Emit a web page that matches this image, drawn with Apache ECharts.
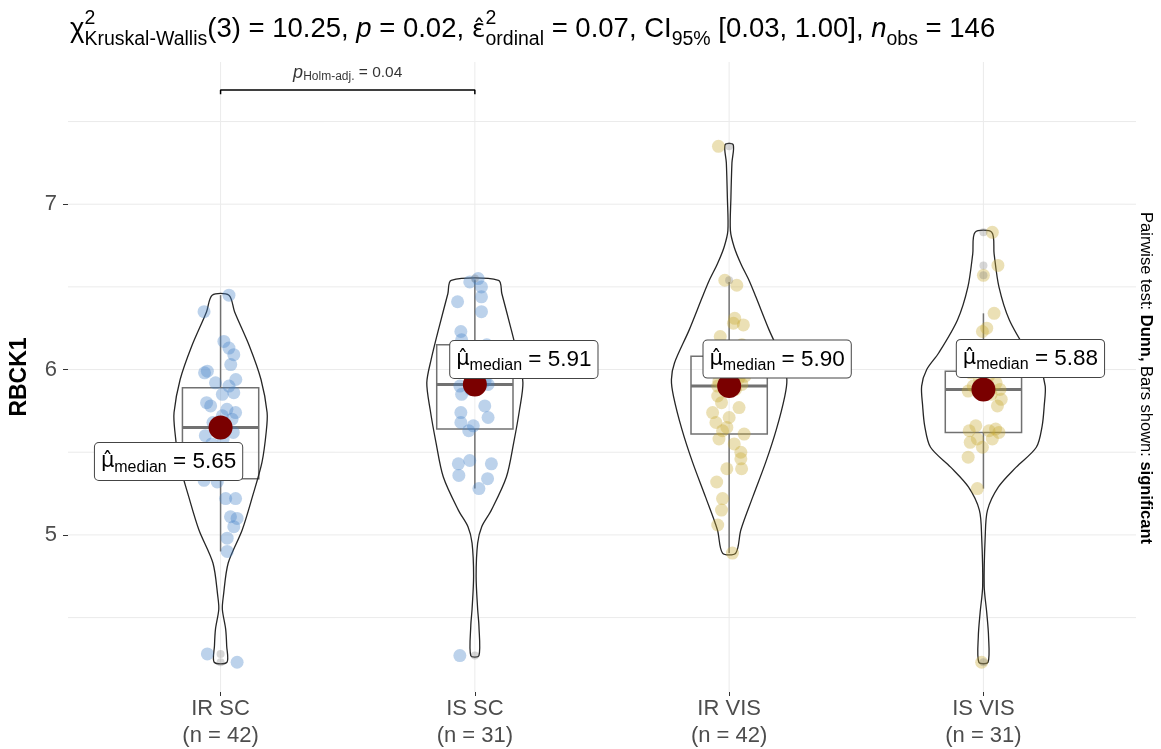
<!DOCTYPE html>
<html><head><meta charset="utf-8">
<script src="https://cdn.jsdelivr.net/npm/echarts@6/dist/echarts.min.js"></script>
<style>html,body{margin:0;padding:0;background:#fff}#main{width:1161px;height:749px}</style>
</head><body><div id="main"></div>
<script>
// ---------------- data ----------------
const categories = ['IR SC', 'IS SC', 'IR VIS', 'IS VIS'];
const counts = [42, 31, 42, 31];
const medians = [5.65, 5.91, 5.90, 5.88];
const q1 = [5.34, 5.64, 5.61, 5.62];
const q3 = [5.89, 6.15, 6.08, 5.99];
const whiskerLow = [4.90, 5.28, 4.89, 5.28];
const whiskerHigh = [6.45, 6.54, 6.53, 6.34];
const yTickValues = [5, 6, 7];
const yMinorValues = [4.5, 5.5, 6.5, 7.5];

// jittered observations: [horizontal jitter (category units), value]
const pointsIRSC = [[.033,6.45],[-.065,6.35],[.013,6.17],[.033,6.13],[.052,6.09],[-.052,5.99],[-.063,5.98],[-.020,5.92],[.033,5.90],[.007,5.85],[.052,5.86],[-.039,5.78],[.059,5.74],[.007,5.72],
  [-.03,5.68],[.045,5.70],[.02,5.66],[-.055,5.80],[.025,5.76],[.04,6.03],[-.012,5.64],[.06,5.94],
  [.05,5.62],[-.06,5.60],[.01,5.58],[-.035,5.55],[.055,5.52],[-.015,5.48],[.03,5.45],[-.05,5.40],[.04,5.37],
  [-.065,5.33],[-.013,5.32],[.02,5.22],[.059,5.22],[.039,5.11],[.065,5.10],[.052,5.05],[.026,4.98],[.026,4.90],[-.052,4.28],[.065,4.23]];
const pointsISSC = [[-.020,6.53],[.013,6.55],[.026,6.50],[.026,6.44],[-.068,6.41],[.026,6.35],[-.055,6.23],[-.052,6.18],[-.059,5.90],[-.052,5.85],[.052,5.91],[.039,5.78],[.052,5.71],[-.055,5.74],[-.055,5.68],[-.024,5.63],[-.006,5.66],[-.065,5.43],[-.020,5.45],[.065,5.43],[-.063,5.36],[.050,5.34],[.016,5.28],[-.059,4.27],
  [-.03,6.12],[.03,6.05],[-.047,6.00],[.008,5.97],[.04,5.93],[-.016,5.88],[.047,6.15]];
const pointsIRVIS = [[-.042,7.35],[-.017,6.54],[.030,6.51],[.022,6.31],[.056,6.27],[.017,6.28],[-.045,5.90],[.039,5.95],[-.045,5.84],[.039,5.77],[-.065,5.74],[0,5.71],[-.052,5.68],[-.009,5.65],[-.026,5.63],[.059,5.61],[.046,5.50],[.046,5.46],[.049,5.40],[-.009,5.40],[-.049,5.32],[-.026,5.22],[-.030,5.15],[-.045,5.06],[.013,4.89],
  [-.035,6.20],[.05,6.15],[-.06,6.12],[.015,6.10],[-.02,6.06],[.055,6.04],[-.05,6.02],[.03,6.00],[-.01,5.98],[.062,5.96],[-.04,5.93],[.02,5.92],[.05,5.91],[-.03,5.80],[.025,5.88],[-.04,5.58],[.02,5.55]];
const pointsISVIS = [[.035,6.83],[.057,6.63],[0,6.57],[.042,6.34],[.013,6.25],[-.004,6.23],[.065,5.88],[.070,5.82],[.055,5.78],[-.030,5.66],[-.056,5.63],[.022,5.63],[.048,5.64],[.061,5.62],[-.052,5.56],[-.024,5.58],[.035,5.58],[-.004,5.53],[-.060,5.47],[-.024,5.28],[-.007,4.23],
  [-.03,6.10],[.04,6.02],[-.05,5.98],[.02,5.96],[-.015,5.94],[.05,5.92],[-.04,5.90],[.01,5.88],[-.06,5.87],[.03,5.85]];
const groupPoints = [pointsIRSC, pointsISSC, pointsIRVIS, pointsISVIS];

// violin outlines: [value, half-width in category units]
const violinIRSC = [[6.45,.033],[6.35,.055],[6.14,.114],[5.94,.159],[5.74,.183],[5.63,.180],[5.44,.163],[5.23,.125],[5.03,.085],[4.83,.030],[4.63,.011],[4.55,.007],[4.43,.020],[4.33,.024],[4.23,.025]];
const violinISSC = [[6.54,.093],[6.46,.106],[6.26,.140],[6.06,.172],[5.92,.189],[5.76,.176],[5.56,.153],[5.35,.124],[5.15,.065],[5.05,.027],[4.95,.011],[4.75,.005],[4.55,.011],[4.45,.016],[4.27,.016]];
const violinIRVIS = [[7.36,.016],[7.25,.011],[7.04,.007],[6.84,.005],[6.74,.020],[6.64,.046],[6.54,.078],[6.44,.105],[6.24,.157],[6.04,.215],[5.94,.227],[5.84,.219],[5.64,.186],[5.44,.144],[5.23,.093],[5.03,.046],[4.89,.026]];
const violinISVIS = [[6.83,.033],[6.70,.042],[6.50,.061],[6.30,.102],[6.10,.176],[6.00,.223],[5.90,.243],[5.78,.239],[5.66,.231],[5.53,.208],[5.41,.129],[5.29,.059],[5.15,.016],[4.99,.007],[4.69,.003],[4.53,.013],[4.39,.020],[4.23,.018]];
const violins = [violinIRSC, violinISSC, violinIRVIS, violinISVIS];

// pairwise comparison bar
const sigPair = [1, 2];
const sigY = 7.69;
const sigTick = 0.025;
const sigText = '0.04';

// ---------------- styling ----------------
const FONT = 'Liberation Sans, Arial, Helvetica, sans-serif';
const HATFONT = 'DejaVu Sans, Liberation Sans, sans-serif';
const pointColors = ['rgba(70,130,200,0.45)', 'rgba(70,130,200,0.45)', 'rgba(200,170,50,0.45)', 'rgba(200,170,50,0.45)'];
const labelOffsets = [[-52, 34], [49, -25], [48, -27], [47, -31]];
const boxHalf = 0.15;
const X_MIN = 0.4, X_MAX = 4.6, Y_MIN = 4.05, Y_MAX = 7.86;

const chart = echarts.init(document.getElementById('main'), null, {renderer: 'canvas'});

const cvs = document.createElement('canvas');
const ctx = cvs.getContext('2d');
function measure(t, size, style, family) {
  ctx.font = (style || 'normal') + ' ' + size + 'px ' + (family || FONT);
  return ctx.measureText(t).width;
}
function buildRun(segs, x0, baseline) {
  let x = x0; const els = [];
  segs.forEach(s => {
    const w = measure(s.t, s.size, s.style, s.family);
    els.push({type: 'text', silent: true, x: x, y: baseline + (s.dy || 0) - 0.35 * s.size,
      style: {text: s.t, fontSize: s.size, fontFamily: s.family || FONT, fontStyle: s.style || 'normal', fill: '#000', align: 'left', verticalAlign: 'middle'}});
    if (!s.noAdv) x += w;
  });
  return els;
}
const S = 27.5, SS = 19.5;
const titleSegs = [
  {t: 'χ', size: S},
  {t: '2', size: SS, dy: -14, noAdv: true},
  {t: 'Kruskal-Wallis', size: SS, dy: 7},
  {t: '(3) = 10.25, ', size: S},
  {t: 'p', size: S, style: 'italic'},
  {t: ' = 0.02, ', size: S},
  {t: 'ε̂', size: S - 2, family: HATFONT},
  {t: '2', size: SS, dy: -14, noAdv: true},
  {t: 'ordinal', size: SS, dy: 7},
  {t: ' = 0.07, CI', size: S},
  {t: '95%', size: SS, dy: 7},
  {t: ' [0.03, 1.00], ', size: S},
  {t: 'n', size: S, style: 'italic'},
  {t: 'obs', size: SS, dy: 7},
  {t: ' = 146', size: S}
];
const titleEls = buildRun(titleSegs, 70, 39);

const series = [];
// grid lines
series.push({
  type: 'custom', silent: true, z: 0,
  data: yTickValues.concat(yMinorValues).map(v => [X_MIN, v]),
  renderItem(params, api) {
    const cs = params.coordSys; const p = api.coord([X_MIN, api.value(1)]);
    return {type: 'line', shape: {x1: cs.x, y1: p[1], x2: cs.x + cs.width, y2: p[1]}, style: {stroke: '#ebebeb', lineWidth: 1}};
  }
});
series.push({
  type: 'custom', silent: true, z: 0,
  data: categories.map((c, i) => [i + 1, Y_MIN]),
  renderItem(params, api) {
    const cs = params.coordSys; const p = api.coord([api.value(0), Y_MIN]);
    return {type: 'line', shape: {x1: p[0], y1: cs.y, x2: p[0], y2: cs.y + cs.height}, style: {stroke: '#ebebeb', lineWidth: 1}};
  }
});
// jittered points
groupPoints.forEach((pts, i) => {
  series.push({
    type: 'scatter', silent: true, symbolSize: 13,
    itemStyle: {color: pointColors[i]},
    data: pts.map(([dx, v]) => [i + 1 + dx, v])
  });
});
// boxplot outliers (values beyond whiskers)
const outliers = [];
groupPoints.forEach((pts, i) => pts.forEach(([dx, v]) => { if (v > whiskerHigh[i] || v < whiskerLow[i]) outliers.push([i + 1, v]); }));
series.push({type: 'scatter', silent: true, symbolSize: 8, itemStyle: {color: 'rgba(110,110,110,0.35)'}, data: outliers});
// boxes
series.push({
  type: 'custom', silent: true,
  data: categories.map((c, i) => [i + 1, medians[i]]),
  renderItem(params, api) {
    const i = params.dataIndex, c = i + 1;
    const tl = api.coord([c - boxHalf, q3[i]]), br = api.coord([c + boxHalf, q1[i]]);
    const m = api.coord([c, medians[i]]);
    const wt = api.coord([c, whiskerHigh[i]]), wb = api.coord([c, whiskerLow[i]]);
    const st = {stroke: '#595959', lineWidth: 1.5};
    return {type: 'group', children: [
      {type: 'line', shape: {x1: wt[0], y1: wt[1], x2: wt[0], y2: tl[1]}, style: st},
      {type: 'line', shape: {x1: wb[0], y1: br[1], x2: wb[0], y2: wb[1]}, style: st},
      {type: 'rect', shape: {x: tl[0], y: tl[1], width: br[0] - tl[0], height: br[1] - tl[1]}, style: {fill: 'none', stroke: '#595959', lineWidth: 1.5}},
      {type: 'line', shape: {x1: tl[0], y1: m[1], x2: br[0], y2: m[1]}, style: {stroke: '#595959', lineWidth: 3}}
    ]};
  }
});
// violins
series.push({
  type: 'custom', silent: true,
  data: categories.map((c, i) => [i + 1, medians[i]]),
  renderItem(params, api) {
    const i = params.dataIndex, c = i + 1, prof = violins[i];
    const right = prof.map(([v, w]) => api.coord([c + w, v]));
    const left = prof.slice().reverse().map(([v, w]) => api.coord([c - w, v]));
    return {type: 'polygon', shape: {points: right.concat(left), smooth: 0.3},
      style: {fill: 'rgba(255,255,255,0.15)', stroke: '#262626', lineWidth: 1.3}};
  }
});
// median points + labels
series.push({
  type: 'scatter', silent: true, symbolSize: 24, z: 5,
  itemStyle: {color: '#7a0000', opacity: 1},
  data: medians.map((m, i) => ({value: [i + 1, m], label: {offset: labelOffsets[i]}})),
  label: {
    show: true, position: 'inside',
    formatter: p => '{mu|μ̂}{sub|median}{val| = ' + medians[p.dataIndex].toFixed(2) + '}',
    backgroundColor: '#fff', borderColor: '#444', borderWidth: 1, borderRadius: 4,
    padding: [5, 6, 4, 6],
    rich: {
      mu: {fontSize: 21, fontFamily: HATFONT, color: '#000', lineHeight: 28, verticalAlign: 'middle'},
      sub: {fontSize: 16, fontFamily: FONT, color: '#000', lineHeight: 15, verticalAlign: 'bottom'},
      val: {fontSize: 22.5, fontFamily: FONT, color: '#000', lineHeight: 28, verticalAlign: 'middle'}
    }
  }
});
// significance bar
series.push({
  type: 'line', silent: true, symbol: 'none', z: 5,
  lineStyle: {color: '#000', width: 1.5},
  data: [[sigPair[0], sigY - sigTick], [sigPair[0], sigY], [sigPair[1], sigY], [sigPair[1], sigY - sigTick]]
});
series.push({
  type: 'scatter', silent: true, symbolSize: 0, z: 5,
  data: [[(sigPair[0] + sigPair[1]) / 2, sigY]],
  label: {
    show: true, position: 'top', distance: 7,
    formatter: () => '{p|p}{s|Holm-adj.}{n| = ' + sigText + '}',
    rich: {
      p: {fontSize: 18, fontStyle: 'italic', fontFamily: FONT, color: '#000', lineHeight: 20, verticalAlign: 'middle'},
      s: {fontSize: 12, fontFamily: FONT, color: '#000', lineHeight: 12, verticalAlign: 'bottom'},
      n: {fontSize: 15.5, fontFamily: FONT, color: '#000', lineHeight: 20, verticalAlign: 'middle'}
    }
  }
});

chart.setOption({
  animation: false,
  backgroundColor: '#fff',
  grid: {left: 65, right: 25, top: 62, bottom: 57, containLabel: false},
  xAxis: {
    type: 'value', min: X_MIN, max: X_MAX,
    axisLine: {show: false}, splitLine: {show: false},
    axisTick: {show: true, customValues: [1, 2, 3, 4], length: 4, lineStyle: {color: '#333', width: 1}},
    axisLabel: {customValues: [1, 2, 3, 4], margin: 3, color: '#4d4d4d', fontSize: 22, lineHeight: 27, fontFamily: FONT,
      formatter: v => { const i = Math.round(v) - 1; return categories[i] + '\n(n = ' + counts[i] + ')'; }}
  },
  yAxis: {
    type: 'value', min: Y_MIN, max: Y_MAX,
    axisLine: {show: false}, splitLine: {show: false},
    axisTick: {show: true, customValues: yTickValues, length: 5, lineStyle: {color: '#333', width: 1}},
    axisLabel: {customValues: yTickValues, margin: 11, color: '#4d4d4d', fontSize: 22, fontFamily: FONT},
    name: 'RBCK1', nameLocation: 'middle', nameGap: 37,
    nameTextStyle: {fontSize: 23, fontWeight: 'bold', color: '#000', fontFamily: FONT}
  },
  graphic: titleEls.concat([{
    type: 'text', silent: true, x: 1146, y: 378, rotation: -Math.PI / 2,
    style: {text: '{n|Pairwise test: }{b|Dunn,}{n| Bars shown: }{b|significant}', align: 'center', verticalAlign: 'middle',
      rich: {n: {fontSize: 16.5, fontFamily: FONT, fill: '#000'}, b: {fontSize: 16.5, fontFamily: FONT, fontWeight: 'bold', fill: '#000'}}}
  }]),
  series: series
});
</script></body></html>
